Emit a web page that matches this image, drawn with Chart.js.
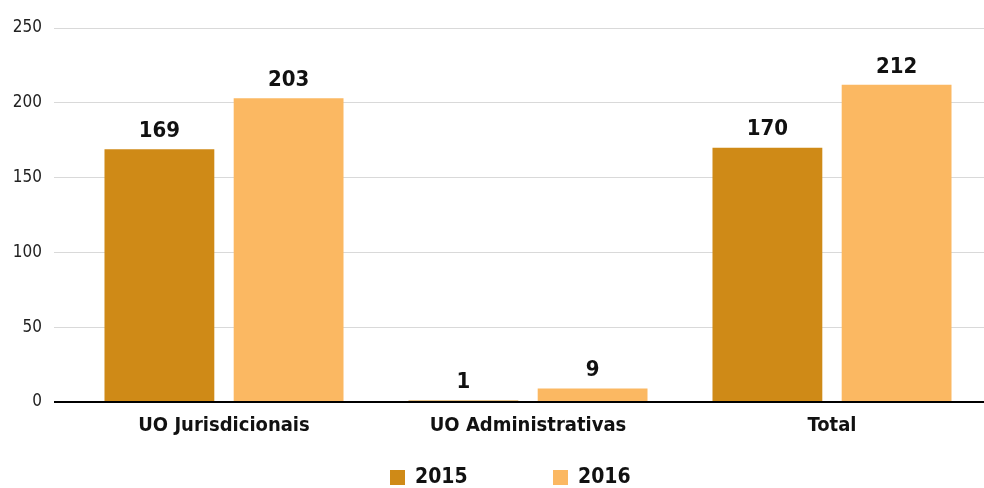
<!DOCTYPE html>
<html>
<head>
<meta charset="utf-8">
<script src="https://cdn.jsdelivr.net/npm/chart.js@4.4.1/dist/chart.umd.min.js"></script>
<style>
  html, body { margin: 0; padding: 0; background: #fff; }
</style>
</head>
<body>
<canvas id="BarChart" width="984" height="488"></canvas>
<script>
const categories = ['UO Jurisdicionais', 'UO Administrativas', 'Total'];
const values2015 = [169, 1, 170];
const values2016 = [203, 9, 212];
const yTicks = [0, 50, 100, 150, 200, 250];

const FONT = "'Liberation Sans Narrow', 'DejaVu Sans Condensed', sans-serif";

// draws the value above each bar
const valueLabels = {
    id: 'valueLabels',
    afterDatasetsDraw(chart) {
        const ctx = chart.ctx;
        ctx.save();
        ctx.font = 'bold 22px ' + FONT;
        ctx.fillStyle = '#111';
        ctx.textAlign = 'center';
        ctx.textBaseline = 'bottom';
        chart.data.datasets.forEach((ds, i) => {
            chart.getDatasetMeta(i).data.forEach((bar, j) => {
                ctx.fillText(ds.data[j], bar.x, bar.y - 7);
            });
        });
        ctx.restore();
    }
};

// simple legend under the axis, square boxes, wide spacing
const bottomLegend = {
    id: 'bottomLegend',
    afterDraw(chart) {
        const ctx = chart.ctx;
        ctx.save();
        ctx.font = 'bold 21px ' + FONT;
        ctx.textBaseline = 'middle';
        ctx.textAlign = 'left';
        const y = 478;
        let x = 390;
        chart.data.datasets.forEach(ds => {
            ctx.fillStyle = ds.backgroundColor;
            ctx.fillRect(x, y - 8, 15, 15);
            ctx.fillStyle = '#111';
            ctx.fillText(ds.label, x + 25, y);
            x += 163;
        });
        ctx.restore();
    }
};

const ctx = document.getElementById('BarChart');
const BarChart = new Chart(ctx, {
    type: 'bar',
    data: {
        labels: categories,
        datasets: [{
            label: '2015',
            data: values2015,
            backgroundColor: '#CF8A17',
            borderWidth: 0
        }, {
            label: '2016',
            data: values2016,
            backgroundColor: '#FBB862',
            borderWidth: 0
        }]
    },
    options: {
        responsive: false,
        animation: false,
        layout: {
            padding: { left: 0, right: -5, top: 28, bottom: 38 }
        },
        datasets: {
            bar: { categoryPercentage: 0.85, barPercentage: 0.85 }
        },
        plugins: {
            legend: { display: false },
            tooltip: { enabled: false }
        },
        scales: {
            x: {
                grid: { display: false, drawTicks: false },
                border: { color: '#000', width: 2 },
                ticks: {
                    padding: 12,
                    maxRotation: 0,
                    color: '#111',
                    font: { family: FONT, size: 20, weight: 'bold' }
                }
            },
            y: {
                min: 0,
                max: 250,
                afterFit(scale) { scale.width = 72; },
                afterBuildTicks(scale) {
                    scale.ticks = yTicks.map(v => ({ value: v }));
                },
                border: { display: false },
                grid: {
                    tickLength: 18,
                    color: c => c.tick && c.tick.value === 0 ? '#000' : '#D9D9D9',
                    lineWidth: c => c.tick && c.tick.value === 0 ? 2 : 1
                },
                ticks: {
                    padding: 12,
                    color: '#222',
                    font: { family: FONT, size: 17 }
                }
            }
        }
    },
    plugins: [valueLabels, bottomLegend]
});
</script>
</body>
</html>
